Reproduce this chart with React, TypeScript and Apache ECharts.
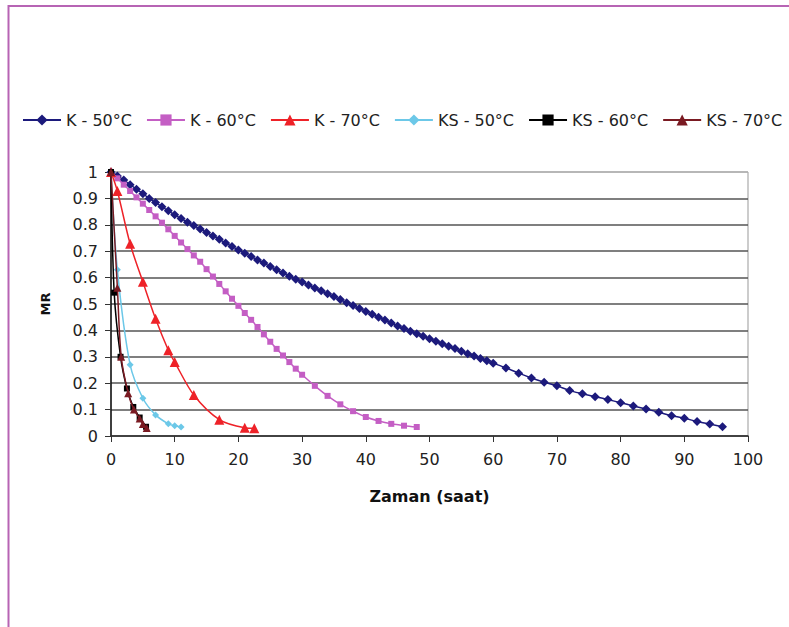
import React, { useEffect, useRef } from "react";
import * as echarts from "echarts";

const seriesNames = ["K - 50°C", "K - 60°C", "K - 70°C", "KS - 50°C", "KS - 60°C", "KS - 70°C"];

const k50Time = [0, 1, 2, 3, 4, 5, 6, 7, 8, 9, 10, 11, 12, 13, 14, 15, 16, 17, 18, 19, 20, 21, 22, 23, 24, 25, 26, 27, 28, 29, 30, 31, 32, 33, 34, 35, 36, 37, 38, 39, 40, 41, 42, 43, 44, 45, 46, 47, 48, 49, 50, 51, 52, 53, 54, 55, 56, 57, 58, 59, 60, 62, 64, 66, 68, 70, 72, 74, 76, 78, 80, 82, 84, 86, 88, 90, 92, 94, 96];
const k50MR = [1.0, 0.985, 0.97, 0.952, 0.935, 0.918, 0.9, 0.884, 0.868, 0.853, 0.838, 0.824, 0.81, 0.797, 0.784, 0.771, 0.758, 0.745, 0.731, 0.718, 0.705, 0.692, 0.68, 0.667, 0.655, 0.642, 0.63, 0.617, 0.605, 0.594, 0.583, 0.572, 0.561, 0.55, 0.539, 0.528, 0.517, 0.505, 0.494, 0.483, 0.472, 0.461, 0.45, 0.439, 0.428, 0.417, 0.407, 0.397, 0.387, 0.378, 0.368, 0.359, 0.349, 0.34, 0.331, 0.321, 0.312, 0.303, 0.294, 0.285, 0.276, 0.258, 0.238, 0.22, 0.204, 0.19, 0.172, 0.16, 0.149, 0.138, 0.126, 0.114, 0.102, 0.09, 0.077, 0.067, 0.055, 0.045, 0.035];

const k60Time = [0, 1, 2, 3, 4, 5, 6, 7, 8, 9, 10, 11, 12, 13, 14, 15, 16, 17, 18, 19, 20, 21, 22, 23, 24, 25, 26, 27, 28, 29, 30, 32, 34, 36, 38, 40, 42, 44, 46, 48];
const k60MR = [1.0, 0.976, 0.952, 0.928, 0.904, 0.88, 0.856, 0.832, 0.808, 0.783, 0.758, 0.733, 0.708, 0.684, 0.66, 0.632, 0.604, 0.576, 0.548, 0.52, 0.493, 0.466, 0.44, 0.413, 0.385, 0.357, 0.33, 0.305, 0.28, 0.255, 0.232, 0.19, 0.152, 0.12, 0.094, 0.072, 0.057, 0.046, 0.039, 0.034];

const k70Time = [0, 1, 3, 5, 7, 9, 10, 13, 17, 21, 22.5];
const k70MR = [1.0, 0.928, 0.728, 0.584, 0.444, 0.325, 0.28, 0.155, 0.062, 0.031, 0.029];

const ks50Time = [0, 1, 3, 5, 7, 9, 10, 11];
const ks50MR = [1.0, 0.63, 0.27, 0.143, 0.08, 0.046, 0.039, 0.034];

const ks60Time = [0, 0.5, 1.5, 2.5, 3.5, 4.5, 5.5];
const ks60MR = [1.0, 0.543, 0.3, 0.18, 0.11, 0.07, 0.035];

const ks70Time = [0, 1, 1.6, 2.7, 3.6, 4.5, 5.0, 5.6];
const ks70MR = [1.0, 0.562, 0.3, 0.162, 0.1, 0.066, 0.045, 0.03];

const xTicks = [0, 10, 20, 30, 40, 50, 60, 70, 80, 90, 100];

const colors = ["#1c1a7c", "#c45ec4", "#ee2228", "#6cc8e8", "#000000", "#7a1a22"];
const symbols = ["diamond", "rect", "triangle", "diamond", "rect", "triangle"];
const symbolSizes = [9, 6, 10, 7, 6, 8];

const pair = (t: number[], v: number[]) => t.map((x, i) => [x, v[i]]);

export default function App() {
  const ref = useRef<HTMLDivElement>(null);
  useEffect(() => {
    if (!ref.current) return;
    const chart = echarts.init(ref.current, undefined, { renderer: "svg" });
    const datasets = [
      pair(k50Time, k50MR),
      pair(k60Time, k60MR),
      pair(k70Time, k70MR),
      pair(ks50Time, ks50MR),
      pair(ks60Time, ks60MR),
      pair(ks70Time, ks70MR),
    ];
    const font = "DejaVu Sans";
    const gridColors = ["#555", "#555", "#555", "#555", "#555", "#555", "#555", "#555", "#555", "#555", "#b0b0b0"];
    chart.setOption({
      animation: false,
      backgroundColor: "#ffffff",
      textStyle: { fontFamily: font },
      legend: {
        data: seriesNames,
        left: 22,
        top: 112,
        width: 767,
        padding: 0,
        itemWidth: 38,
        itemHeight: 14,
        itemGap: 14,
        textStyle: { fontFamily: font, fontSize: 16, color: "#222" },
      },
      grid: {
        left: 111,
        right: 41,
        top: 172,
        bottom: 191,
        show: true,
        borderColor: "#999",
        borderWidth: 1,
        backgroundColor: "transparent",
      },
      xAxis: {
        type: "value",
        min: 0,
        max: 100,
        interval: 10,
        name: "Zaman (saat)",
        nameLocation: "middle",
        nameGap: 52,
        nameTextStyle: { fontFamily: font, fontSize: 16, fontWeight: "bold", color: "#111" },
        axisLine: { show: true, lineStyle: { color: "#333", width: 1.5 } },
        axisTick: { show: true, inside: false, length: 6, lineStyle: { color: "#333" } },
        axisLabel: {
          margin: 15,
          fontFamily: font,
          fontSize: 16,
          color: "#222",
          formatter: (v: number) => (xTicks.includes(v) ? String(v) : ""),
        },
        splitLine: { show: false },
      },
      yAxis: {
        type: "value",
        min: 0,
        max: 1,
        interval: 0.1,
        name: "MR",
        nameLocation: "middle",
        nameGap: 59,
        nameRotate: 90,
        nameTextStyle: { fontFamily: font, fontSize: 13, fontWeight: "bold", color: "#111" },
        axisLine: { show: true, lineStyle: { color: "#111", width: 1.5 } },
        axisTick: { show: true, inside: false, length: 6, lineStyle: { color: "#333" } },
        axisLabel: {
          margin: 13,
          fontFamily: font,
          fontSize: 16,
          color: "#222",
          formatter: (v: number) => String(Math.round(v * 10) / 10),
        },
        splitLine: { show: true, lineStyle: { color: gridColors, width: 1.5 } },
      },
      graphic: [
        {
          type: "polyline",
          shape: { points: [[8.5, 627], [8.5, 6], [789, 6]] },
          style: { stroke: "#b764b4", lineWidth: 2, fill: "none" },
          silent: true,
        },
      ],
      series: seriesNames.map((name, i) => ({
        name,
        type: "line",
        data: datasets[i],
        symbol: symbols[i],
        symbolSize: symbolSizes[i],
        showSymbol: true,
        smooth: 0.3,
        itemStyle: { color: colors[i] },
        lineStyle: { color: colors[i], width: 1.5 },
        z: 2 + i,
      })),
    });
    return () => chart.dispose();
  }, []);
  return (
    <div
      ref={ref}
      style={{ position: "absolute", left: 0, top: 0, width: 789, height: 627 }}
    />
  );
}
